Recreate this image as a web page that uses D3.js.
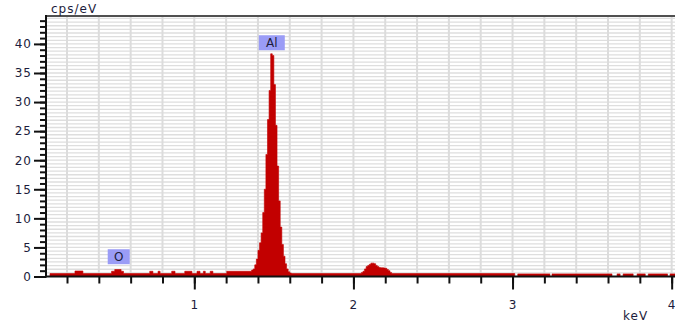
<!DOCTYPE html>
<html>
<head>
<meta charset="utf-8">
<script src="https://cdn.jsdelivr.net/npm/d3@7"></script>
<style>
  html, body { margin: 0; padding: 0; background: #fff; }
  svg text { font-family: "DejaVu Sans", Verdana, sans-serif; font-size: 12px; fill: #1c1c3c; letter-spacing: 1px; }
</style>
</head>
<body>
<div id="chart"></div>
<script>
// spectrum as steps: bin start energy (keV) and count rate (cps/eV)
const energies = [
  0.068, 0.093, 0.25, 0.30, 0.48, 0.50, 0.54, 0.555, 0.72, 0.74, 0.772, 0.785,
  0.858, 0.879, 0.94, 0.985, 1.017, 1.036, 1.057, 1.069, 1.10, 1.117, 1.204,
  1.36, 1.37, 1.38, 1.39, 1.40, 1.41, 1.42, 1.43, 1.44, 1.45, 1.46, 1.47, 1.48,
  1.49, 1.50, 1.51, 1.52, 1.53, 1.54, 1.55, 1.56, 1.57, 1.58, 1.59, 1.60, 1.61,
  2.05, 2.06, 2.07, 2.08, 2.09, 2.10, 2.11, 2.12, 2.13, 2.14, 2.15, 2.16, 2.17,
  2.18, 2.19, 2.20, 2.21, 2.22, 2.23, 2.24,
  3.014, 3.033, 3.235, 3.248, 3.625, 3.657, 3.676, 3.695, 3.758, 3.783, 3.834,
  3.853, 3.974, 3.99, 4.021
];
const counts = [
  0, 0.5, 0.95, 0.5, 0.9, 1.2, 0.9, 0.5, 0.9, 0.5, 0.9, 0.5,
  0.9, 0.5, 0.9, 0.5, 0.9, 0.5, 0.9, 0.5, 0.9, 0.5, 0.9,
  1.1, 1.3, 2.0, 3.0, 4.5, 5.8, 7.5, 11, 15, 21, 27, 32, 38.3,
  38, 33, 26, 19, 13, 8.5, 5.5, 3.5, 2.2, 1.3, 0.8, 0.6, 0.5,
  0.7, 0.9, 1.3, 1.7, 1.9, 2.1, 2.3, 2.3, 2.2, 1.9, 1.7, 1.55, 1.5,
  1.5, 1.45, 1.4, 1.2, 1.0, 0.7, 0.5,
  0, 0.45, 0, 0.45, 0, 0.45, 0, 0.45, 0, 0.45, 0,
  0.45, 0, 0.45, 0.45
];

const elements = ["O", "Al"];
const elementEnergies = [0.525, 1.487];
const elementMarkY = [3.4, 40.2];

const xMajor = [1, 2, 3, 4];
const yMajor = [0, 5, 10, 15, 20, 25, 30, 35, 40];

const W = 675, H = 325;
const plotLeft = 46, plotRight = 675, plotTop = 16, plotBottom = 276.5;

const svg = d3.select("#chart").append("svg")
  .attr("width", W)
  .attr("height", H);

const x = d3.scaleLinear().domain([0.068, 4.021]).range([plotLeft, plotRight]);
const y = d3.scaleLinear().domain([0, 44.8]).range([plotBottom, plotTop]);

const xMinor = d3.range(0.2, 4.01, 0.2).filter(v => x(v) > plotLeft + 2);
const yMinor = d3.range(0, 44.5, 1);
const yGrid = d3.range(0.625, 44.8, 0.625);

// grid
svg.append("g")
  .selectAll("line")
  .data(yGrid)
  .join("line")
  .attr("x1", plotLeft).attr("x2", plotRight)
  .attr("y1", d => y(d)).attr("y2", d => y(d))
  .attr("stroke", "#dedede")
  .attr("stroke-width", 1.3);

svg.append("g")
  .selectAll("line")
  .data(xMinor)
  .join("line")
  .attr("x1", d => x(d)).attr("x2", d => x(d))
  .attr("y1", plotTop).attr("y2", plotBottom)
  .attr("stroke", "#dcdcdc")
  .attr("stroke-width", 2);

// spectrum
const data = energies.map((e, i) => ({ e, v: counts[i] }));
const area = d3.area()
  .curve(d3.curveStepAfter)
  .x(d => x(d.e))
  .y0(y(0))
  .y1(d => y(d.v));

svg.append("path")
  .datum(data)
  .attr("d", area)
  .attr("fill", "#c20000")
  .attr("stroke", "#c20000")
  .attr("stroke-width", 0.6)
  .attr("stroke-linejoin", "miter");

// top border
svg.append("line")
  .attr("x1", plotLeft).attr("x2", plotRight)
  .attr("y1", plotTop).attr("y2", plotTop)
  .attr("stroke", "#505050")
  .attr("stroke-width", 2);

// x axis
const gx = svg.append("g").attr("transform", `translate(0,${plotBottom})`);
gx.call(d3.axisBottom(x).tickValues(xMinor).tickSize(7).tickSizeOuter(0).tickFormat(""));
gx.append("g")
  .call(d3.axisBottom(x).tickValues(xMajor).tickSize(13).tickSizeOuter(0).tickFormat(d3.format("d")));
gx.selectAll("path").remove();
gx.selectAll("line").attr("stroke", "#111").attr("stroke-width", 2);
gx.selectAll("text").attr("fill", "#1c1c3c").attr("dy", "1.35em").style("font-size", "12px")
  .style("font-family", "DejaVu Sans, sans-serif");
svg.append("line")
  .attr("x1", plotLeft - 1).attr("x2", plotRight)
  .attr("y1", plotBottom).attr("y2", plotBottom)
  .attr("stroke", "#111")
  .attr("stroke-width", 2);

// y axis
const gy = svg.append("g").attr("transform", `translate(${plotLeft},0)`);
gy.call(d3.axisLeft(y).tickValues(yMinor).tickSize(6).tickSizeOuter(0).tickFormat(""));
gy.append("g")
  .call(d3.axisLeft(y).tickValues(yMajor).tickSize(12).tickSizeOuter(0).tickFormat(d3.format("d")));
gy.selectAll("path").remove();
gy.selectAll("line").attr("stroke", "#111").attr("stroke-width", 2);
gy.selectAll("text").attr("fill", "#1c1c3c").attr("x", -14).style("font-size", "12px")
  .style("font-family", "DejaVu Sans, sans-serif");
svg.append("line")
  .attr("x1", plotLeft).attr("x2", plotLeft)
  .attr("y1", plotTop - 1).attr("y2", plotBottom + 1)
  .attr("stroke", "#111")
  .attr("stroke-width", 2);

// axis titles
svg.append("text").attr("x", 51).attr("y", 13).text("cps/eV");
svg.append("text").attr("x", 623).attr("y", 320).text("keV");

// element markers
const marks = svg.append("g")
  .selectAll("g")
  .data(elements)
  .join("g")
  .attr("transform", (d, i) => `translate(${x(elementEnergies[i])},${y(elementMarkY[i])})`);

marks.append("rect")
  .attr("x", (d, i) => i === 1 ? -13 : -11)
  .attr("y", -7.5)
  .attr("width", (d, i) => i === 1 ? 26 : 22)
  .attr("height", 15)
  .attr("fill", "#9a9cf6");

marks.append("text")
  .attr("text-anchor", "middle")
  .attr("dy", "0.36em")
  .attr("fill", "#1c1c3c")
  .style("letter-spacing", "0px")
  .text(d => d);
</script>
</body>
</html>
